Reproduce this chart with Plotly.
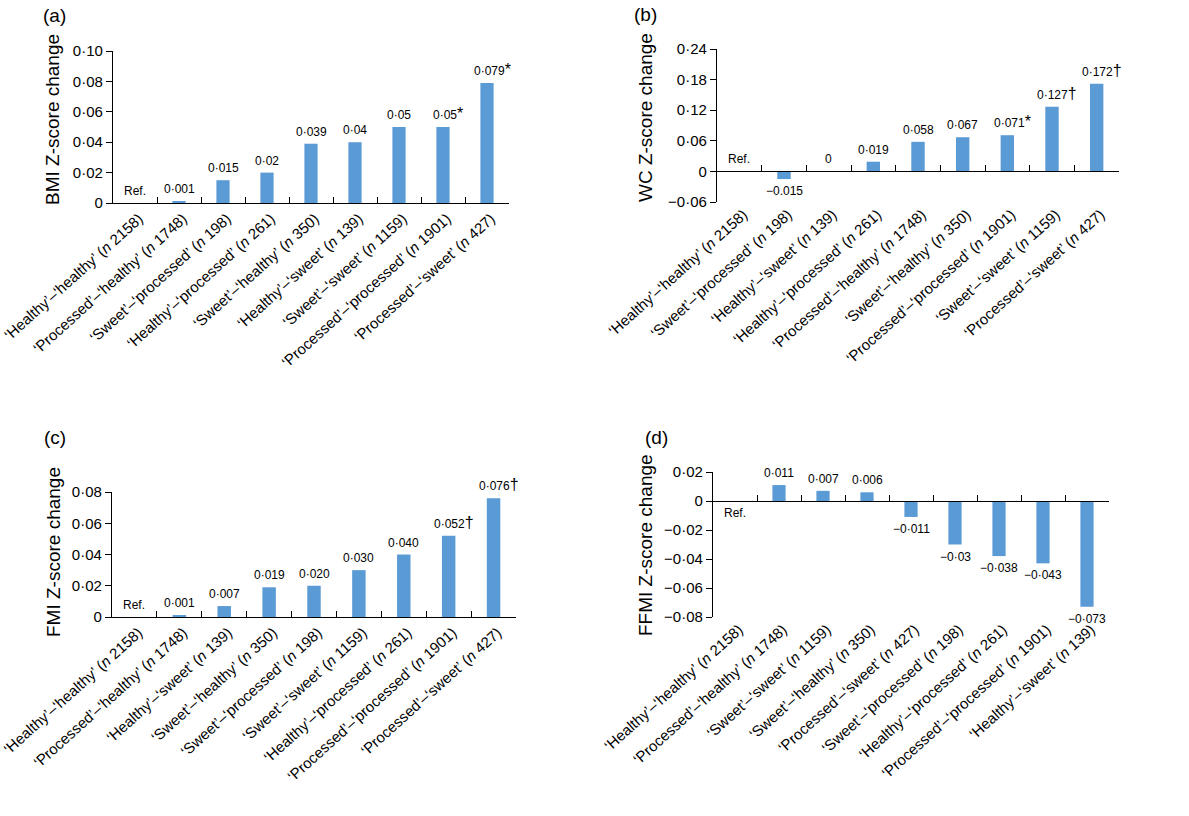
import plotly.graph_objects as go

W, H = 1189, 816
FONT = "Liberation Sans, Arial, Helvetica, sans-serif"
BAR_COLOR = "#5B9BD5"

# ---------------- data ----------------
a_categories = [
    "‘Healthy’–‘healthy’ (<i>n</i> 2158)",
    "‘Processed’–‘healthy’ (<i>n</i> 1748)",
    "‘Sweet’–‘processed’ (<i>n</i> 198)",
    "‘Healthy’–‘processed’ (<i>n</i> 261)",
    "‘Sweet’–‘healthy’ (<i>n</i> 350)",
    "‘Healthy’–‘sweet’ (<i>n</i> 139)",
    "‘Sweet’–‘sweet’ (<i>n</i> 1159)",
    "‘Processed’–‘processed’ (<i>n</i> 1901)",
    "‘Processed’–‘sweet’ (<i>n</i> 427)",
]
a_values = [0, 0.001, 0.015, 0.02, 0.039, 0.04, 0.05, 0.05, 0.079]
a_labels = ["Ref.", "0·001", "0·015", "0·02", "0·039", "0·04", "0·05", "0·05*", "0·079*"]
a_yticks = [0, 0.02, 0.04, 0.06, 0.08, 0.10]
a_yticktext = ["0", "0·02", "0·04", "0·06", "0·08", "0·10"]
a_title = "BMI Z-score change"

b_categories = [
    "‘Healthy’–‘healthy’ (<i>n</i> 2158)",
    "‘Sweet’–‘processed’ (<i>n</i> 198)",
    "‘Healthy’–‘sweet’ (<i>n</i> 139)",
    "‘Healthy’–‘processed’ (<i>n</i> 261)",
    "‘Processed’–‘healthy’ (<i>n</i> 1748)",
    "‘Sweet’–‘healthy’ (<i>n</i> 350)",
    "‘Processed’–‘processed’ (<i>n</i> 1901)",
    "‘Sweet’–‘sweet’ (<i>n</i> 1159)",
    "‘Processed’–‘sweet’ (<i>n</i> 427)",
]
b_values = [0, -0.015, 0, 0.019, 0.058, 0.067, 0.071, 0.127, 0.172]
b_labels = ["Ref.", "−0.015", "0", "0·019", "0·058", "0·067", "0·071*", "0·127†", "0·172†"]
b_yticks = [-0.06, 0, 0.06, 0.12, 0.18, 0.24]
b_yticktext = ["−0·06", "0", "0·06", "0·12", "0·18", "0·24"]
b_title = "WC Z-score change"

c_categories = [
    "‘Healthy’–‘healthy’ (<i>n</i> 2158)",
    "‘Processed’–‘healthy’ (<i>n</i> 1748)",
    "‘Healthy’–‘sweet’ (<i>n</i> 139)",
    "‘Sweet’–‘healthy’ (<i>n</i> 350)",
    "‘Sweet’–‘processed’ (<i>n</i> 198)",
    "‘Sweet’–‘sweet’ (<i>n</i> 1159)",
    "‘Healthy’–‘processed’ (<i>n</i> 261)",
    "‘Processed’–‘processed’ (<i>n</i> 1901)",
    "‘Processed’–‘sweet’ (<i>n</i> 427)",
]
c_values = [0, 0.001, 0.007, 0.019, 0.020, 0.030, 0.040, 0.052, 0.076]
c_labels = ["Ref.", "0·001", "0·007", "0·019", "0·020", "0·030", "0·040", "0·052†", "0·076†"]
c_yticks = [0, 0.02, 0.04, 0.06, 0.08]
c_yticktext = ["0", "0·02", "0·04", "0·06", "0·08"]
c_title = "FMI Z-score change"

d_categories = [
    "‘Healthy’–‘healthy’ (<i>n</i> 2158)",
    "‘Processed’–‘healthy’ (<i>n</i> 1748)",
    "‘Sweet’–‘sweet’ (<i>n</i> 1159)",
    "‘Sweet’–‘healthy’ (<i>n</i> 350)",
    "‘Processed’–‘sweet’ (<i>n</i> 427)",
    "‘Sweet’–‘processed’ (<i>n</i> 198)",
    "‘Healthy’–‘processed’ (<i>n</i> 261)",
    "‘Processed’–‘processed’ (<i>n</i> 1901)",
    "‘Healthy’–‘sweet’ (<i>n</i> 139)",
]
d_values = [0, 0.011, 0.007, 0.006, -0.011, -0.03, -0.038, -0.043, -0.073]
d_labels = ["Ref.", "0·011", "0·007", "0·006", "−0·011", "−0·03", "−0·038", "−0·043", "−0·073"]
d_yticks = [-0.08, -0.06, -0.04, -0.02, 0, 0.02]
d_yticktext = ["−0·08", "−0·06", "−0·04", "−0·02", "0", "0·02"]
d_title = "FFMI Z-score change"

panel_letters = ["(a)", "(b)", "(c)", "(d)"]

# ---------------- layout geometry (pixels) ----------------
panels = [
    dict(cats=a_categories, vals=a_values, labels=a_labels, yt=a_yticks, ytt=a_yticktext,
         title=a_title, rng=[0, 0.10], box=(113, 509, 51, 203), ref_side="above",
         title_xy=(52, 120), letter_xy=(54, 15)),
    dict(cats=b_categories, vals=b_values, labels=b_labels, yt=b_yticks, ytt=b_yticktext,
         title=b_title, rng=[-0.06, 0.24], box=(717, 1119, 49, 202), ref_side="above",
         title_xy=(645, 118), letter_xy=(645, 14)),
    dict(cats=c_categories, vals=c_values, labels=c_labels, yt=c_yticks, ytt=c_yticktext,
         title=c_title, rng=[0, 0.08], box=(112, 516, 492, 617), ref_side="above",
         title_xy=(53, 552), letter_xy=(55, 437)),
    dict(cats=d_categories, vals=d_values, labels=d_labels, yt=d_yticks, ytt=d_yticktext,
         title=d_title, rng=[-0.08, 0.02], box=(713, 1109, 472, 617), ref_side="below",
         title_xy=(645, 545), letter_xy=(656, 437)),
]


def fmt_label(s):
    for m in ("*", "†"):
        if s.endswith(m):
            return s[:-1] + f"<span style='font-size:16px'>{m}</span>", True
    return s, False


fig = go.Figure()
layout = {}
annotations = []
extra = len(panels)

for i, p in enumerate(panels, start=1):
    sfx = "" if i == 1 else str(i)
    xa, ya = "x" + sfx, "y" + sfx
    left, right, top, bottom = p["box"]
    ymin, ymax = p["rng"]
    n = len(p["cats"])
    xdom = [left / W, right / W]
    ydom = [1 - bottom / H, 1 - top / H]

    fig.add_trace(go.Bar(x=p["cats"], y=p["vals"], marker_color=BAR_COLOR,
                         marker_line_width=0, xaxis=xa, yaxis=ya,
                         hoverinfo="skip", showlegend=False))

    on_bottom = (ymin == 0)
    layout["xaxis" + sfx] = dict(
        domain=xdom, anchor=ya, type="category", categoryorder="array",
        categoryarray=p["cats"], range=[-0.5, n - 0.5], tickangle=-42,
        tickfont=dict(size=15, color="black", family=FONT),
        ticklabelshift=4,
        showgrid=False, zeroline=False, automargin=False,
        showline=on_bottom, linecolor="black", linewidth=1.3,
        ticks="inside" if on_bottom else "", tickson="boundaries",
        ticklen=6, tickwidth=1.3, tickcolor="black",
    )
    layout["yaxis" + sfx] = dict(
        domain=ydom, anchor=xa, range=p["rng"], tickmode="array",
        tickvals=p["yt"], ticktext=p["ytt"], ticks="outside", ticklen=6,
        tickwidth=1.3, tickcolor="black", showline=True, linecolor="black",
        linewidth=1.3, showgrid=False, zeroline=False, automargin=False,
        tickfont=dict(size=15, color="black", family=FONT),
    )

    if not on_bottom:
        extra += 1
        xo = f"x{extra}"
        zero_pos = ydom[0] + (0 - ymin) / (ymax - ymin) * (ydom[1] - ydom[0])
        layout[f"xaxis{extra}"] = dict(
            overlaying=xa, anchor="free", position=zero_pos, type="category",
            categoryorder="array", categoryarray=p["cats"], range=[-0.5, n - 0.5],
            showticklabels=False, showgrid=False, zeroline=False, automargin=False,
            showline=True, linecolor="black", linewidth=1.3,
            ticks="inside", tickson="boundaries", ticklen=6, tickwidth=1.3,
            tickcolor="black",
        )
        fig.add_trace(go.Scatter(x=p["cats"], y=[0] * n, mode="markers",
                                 opacity=0, xaxis=xo, yaxis=ya,
                                 hoverinfo="skip", showlegend=False))

    # value labels
    for c, v, lbl in zip(p["cats"], p["vals"], p["labels"]):
        txt, has_mark = fmt_label(lbl)
        above = v > 0 or (v == 0 and p["ref_side"] == "above")
        annotations.append(dict(
            x=c, y=v, xref=xa, yref=ya, text=txt, showarrow=False,
            yanchor="bottom" if above else "top", yshift=3 if above else -3,
            xshift=5 if has_mark else 0,
            font=dict(size=12, color="black", family=FONT),
        ))

    # y title
    tx, ty = p["title_xy"]
    annotations.append(dict(
        x=tx / W, y=1 - ty / H, xref="paper", yref="paper", text=p["title"],
        textangle=-90, showarrow=False, xanchor="center", yanchor="middle",
        font=dict(size=19, color="black", family=FONT),
    ))
    # panel letter
    lx, ly = p["letter_xy"]
    annotations.append(dict(
        x=lx / W, y=1 - ly / H, xref="paper", yref="paper", text=panel_letters[i - 1],
        showarrow=False, xanchor="center", yanchor="middle",
        font=dict(size=19, color="black", family=FONT),
    ))

fig.update_layout(
    template="none",
    width=W, height=H, margin=dict(l=0, r=0, t=0, b=0, autoexpand=False),
    paper_bgcolor="white", plot_bgcolor="white",
    bargap=0.7, showlegend=False, annotations=annotations,
    font=dict(family=FONT, color="black"),
    **layout,
)

fig.write_html("out.html", config={"displayModeBar": False},
               post_script="document.body.style.margin='0';document.body.style.overflow='hidden';")
